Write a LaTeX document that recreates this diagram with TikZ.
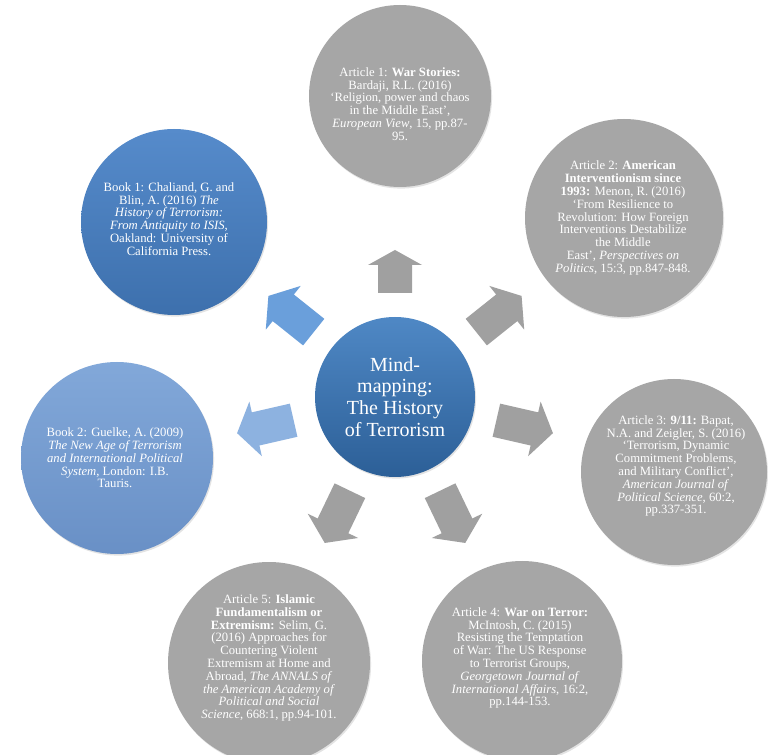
\documentclass[tikz,border=0pt]{standalone}
\usepackage{fontspec}
\setmainfont{Liberation Serif}
\usetikzlibrary{shadows}
\definecolor{gfill}{HTML}{A6A6A6}
\definecolor{garrow}{HTML}{A0A0A0}
\definecolor{ctrtop}{HTML}{4F88C5}
\definecolor{ctrbot}{HTML}{2C5F97}
\definecolor{bonetop}{HTML}{568BCB}
\definecolor{bonebot}{HTML}{3D70AD}
\definecolor{btwotop}{HTML}{82A8D9}
\definecolor{btwobot}{HTML}{6990C6}
\definecolor{arrblueA}{HTML}{6A9FDB}
\definecolor{arrblueB}{HTML}{8DB2E0}
\tikzset{
  longarr/.pic={\fill[pic actions] (104,-17) -- (143,-17) -- (143,-28) -- (162,0) -- (143,28) -- (143,17) -- (104,17) -- cycle;},
  shortarr/.pic={\fill[pic actions] (104,-17) -- (132,-17) -- (132,-27) -- (147,0) -- (132,27) -- (132,17) -- (104,17) -- cycle;}
}
\begin{document}
\begin{tikzpicture}[x=0.75pt,y=-0.75pt,
  circ/.style={circle, draw=none, inner sep=0pt, minimum size=#1*1.5pt,
    drop shadow={opacity=0.22, shadow xshift=0.8pt, shadow yshift=-1.2pt}},
  greyc/.style={fill=gfill},
  reftext/.style={text=white, align=center, inner sep=0pt, font=\fontsize{9.5}{9.6}\selectfont},
  bigtext/.style={text=white, align=center, inner sep=0pt, font=\fontsize{15}{16.3}\selectfont}]
\useasboundingbox (0,0) rectangle (768,755);
\fill[white] (0,0) rectangle (768,755);

% centre
\node[circ=80, top color=ctrtop, bottom color=ctrbot] (ctr) at (395,397) {};
\node[bigtext] (ctrt) at (395,397) {Mind-\\mapping:\\The History\\of Terrorism};

% arrows
\pic[fill=garrow, rotate=90] at (ctr) {shortarr};
\pic[fill=garrow, rotate=38.6] at (ctr) {longarr};
\pic[fill=garrow, rotate=-12.9] at (ctr) {longarr};
\pic[fill=garrow, rotate=-64.3] at (ctr) {longarr};
\pic[fill=garrow, rotate=-115.7] at (ctr) {longarr};
\pic[fill=arrblueB, rotate=192.9] at (ctr) {longarr};
\pic[fill=arrblueA, rotate=141.4] at (ctr) {longarr};

% Article 1
\node[circ=91, greyc] (a1) at (400,96) {};
\node[reftext] (a1t) at (400,104) {Article 1: \textbf{War Stories:}\\Bardaji, R.L. (2016)\\‘Religion, power and chaos\\in the Middle East’,\\\textit{European View}, 15, pp.87-\\95.};

% Article 2
\node[circ=99, greyc] (a2) at (624,218) {};
\node[reftext] (a2t) at (623,218) {Article 2: \textbf{American}\\\textbf{Interventionism since}\\\textbf{1993:} Menon, R. (2016)\\‘From Resilience to\\Revolution: How Foreign\\Interventions Destabilize\\the Middle\\East’, \textit{Perspectives on}\\\textit{Politics}, 15:3, pp.847-848.};

% Article 3
\node[circ=93, greyc] (a3) at (674,472) {};
\node[reftext] (a3t) at (676,466) {Article 3: \textbf{9/11:} Bapat,\\N.A. and Zeigler, S. (2016)\\‘Terrorism, Dynamic\\Commitment Problems,\\and Military Conflict’,\\\textit{American Journal of}\\\textit{Political Science}, 60:2,\\pp.337-351.};

% Article 4
\node[circ=100, greyc] (a4) at (522,661) {};
\node[reftext] (a4t) at (520,658) {Article 4: \textbf{War on Terror:}\\McIntosh, C. (2015)\\Resisting the Temptation\\of War: The US Response\\to Terrorist Groups,\\\textit{Georgetown Journal of}\\\textit{International Affairs}, 16:2,\\pp.144-153.};

% Article 5
\node[circ=101, greyc] (a5) at (269,663) {};
\node[reftext] (a5t) at (269,658) {Article 5: \textbf{Islamic}\\\textbf{Fundamentalism or}\\\textbf{Extremism:} Selim, G.\\(2016) Approaches for\\Countering Violent\\Extremism at Home and\\Abroad, \textit{The ANNALS of}\\\textit{the American Academy of}\\\textit{Political and Social}\\\textit{Science}, 668:1, pp.94-101.};

% Book 2
\node[circ=96, top color=btwotop, bottom color=btwobot] (b2) at (117,458) {};
\node[reftext] (b2t) at (115,458) {Book 2: Guelke, A. (2009)\\\textit{The New Age of Terrorism}\\\textit{and International Political}\\\textit{System}, London: I.B.\\Tauris.};

% Book 1
\node[circ=93, top color=bonetop, bottom color=bonebot] (b1) at (174,222) {};
\node[reftext] (b1t) at (169,219) {Book 1: Chaliand, G. and\\Blin, A. (2016) \textit{The}\\\textit{History of Terrorism:}\\\textit{From Antiquity to ISIS},\\Oakland: University of\\California Press.};
\end{tikzpicture}
\end{document}
